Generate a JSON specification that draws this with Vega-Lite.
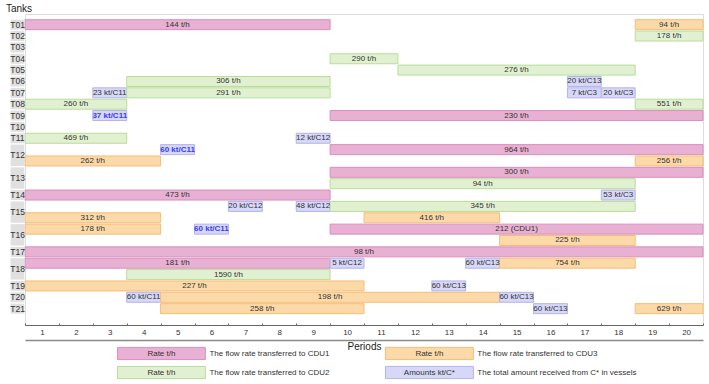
{
  "$schema": "https://vega.github.io/schema/vega-lite/v6.json",
  "padding": {"left": 5, "top": 2, "right": 0, "bottom": 0},
  "config": {"font": "Liberation Sans", "view": {"stroke": "#dddddd"}, "axis": {"grid": false}},
  "datasets": {
    "bars": [
      {"tank": "T01", "slot": 0, "start": 0.5, "end": 9.5, "type": "CDU1", "label": "144 t/h", "flag": "no"},
      {"tank": "T01", "slot": 0, "start": 18.5, "end": 20.5, "type": "CDU3", "label": "94 t/h", "flag": "no"},
      {"tank": "T02", "slot": 1, "start": 18.5, "end": 20.5, "type": "CDU2", "label": "178 t/h", "flag": "no"},
      {"tank": "T04", "slot": 3, "start": 9.5, "end": 11.5, "type": "CDU2", "label": "290 t/h", "flag": "no"},
      {"tank": "T05", "slot": 4, "start": 11.5, "end": 18.5, "type": "CDU2", "label": "276 t/h", "flag": "no"},
      {"tank": "T06", "slot": 5, "start": 3.5, "end": 9.5, "type": "CDU2", "label": "306 t/h", "flag": "no"},
      {"tank": "T06", "slot": 5, "start": 16.5, "end": 17.5, "type": "Vessel", "label": "20 kt/C13", "flag": "no"},
      {"tank": "T07", "slot": 6, "start": 2.5, "end": 3.5, "type": "Vessel", "label": "23 kt/C11", "flag": "no"},
      {"tank": "T07", "slot": 6, "start": 3.5, "end": 9.5, "type": "CDU2", "label": "291 t/h", "flag": "no"},
      {"tank": "T07", "slot": 6, "start": 16.5, "end": 17.5, "type": "Vessel", "label": "7 kt/C3", "flag": "no"},
      {"tank": "T07", "slot": 6, "start": 17.5, "end": 18.5, "type": "Vessel", "label": "20 kt/C3", "flag": "no"},
      {"tank": "T08", "slot": 7, "start": 0.5, "end": 3.5, "type": "CDU2", "label": "260 t/h", "flag": "no"},
      {"tank": "T08", "slot": 7, "start": 18.5, "end": 20.5, "type": "CDU2", "label": "551 t/h", "flag": "no"},
      {"tank": "T09", "slot": 8, "start": 2.5, "end": 3.5, "type": "Vessel", "label": "37 kt/C11", "flag": "yes"},
      {"tank": "T09", "slot": 8, "start": 9.5, "end": 20.5, "type": "CDU1", "label": "230 t/h", "flag": "no"},
      {"tank": "T11", "slot": 10, "start": 0.5, "end": 3.5, "type": "CDU2", "label": "469 t/h", "flag": "no"},
      {"tank": "T11", "slot": 10, "start": 8.5, "end": 9.5, "type": "Vessel", "label": "12 kt/C12", "flag": "no"},
      {"tank": "T12", "slot": 11, "start": 4.5, "end": 5.5, "type": "Vessel", "label": "60 kt/C11", "flag": "yes"},
      {"tank": "T12", "slot": 11, "start": 9.5, "end": 20.5, "type": "CDU1", "label": "964 t/h", "flag": "no"},
      {"tank": "T12", "slot": 12, "start": 0.5, "end": 4.5, "type": "CDU3", "label": "262 t/h", "flag": "no"},
      {"tank": "T12", "slot": 12, "start": 18.5, "end": 20.5, "type": "CDU3", "label": "256 t/h", "flag": "no"},
      {"tank": "T13", "slot": 13, "start": 9.5, "end": 20.5, "type": "CDU1", "label": "300 t/h", "flag": "no"},
      {"tank": "T13", "slot": 14, "start": 9.5, "end": 18.5, "type": "CDU2", "label": "94 t/h", "flag": "no"},
      {"tank": "T14", "slot": 15, "start": 0.5, "end": 9.5, "type": "CDU1", "label": "473 t/h", "flag": "no"},
      {"tank": "T14", "slot": 15, "start": 17.5, "end": 18.5, "type": "Vessel", "label": "53 kt/C3", "flag": "no"},
      {"tank": "T15", "slot": 16, "start": 6.5, "end": 7.5, "type": "Vessel", "label": "20 kt/C12", "flag": "no"},
      {"tank": "T15", "slot": 16, "start": 8.5, "end": 9.5, "type": "Vessel", "label": "48 kt/C12", "flag": "no"},
      {"tank": "T15", "slot": 16, "start": 9.5, "end": 18.5, "type": "CDU2", "label": "345 t/h", "flag": "no"},
      {"tank": "T15", "slot": 17, "start": 0.5, "end": 4.5, "type": "CDU3", "label": "312 t/h", "flag": "no"},
      {"tank": "T15", "slot": 17, "start": 10.5, "end": 14.5, "type": "CDU3", "label": "416 t/h", "flag": "no"},
      {"tank": "T16", "slot": 18, "start": 0.5, "end": 4.5, "type": "CDU3", "label": "178 t/h", "flag": "no"},
      {"tank": "T16", "slot": 18, "start": 5.5, "end": 6.5, "type": "Vessel", "label": "60 kt/C11", "flag": "yes"},
      {"tank": "T16", "slot": 18, "start": 9.5, "end": 20.5, "type": "CDU1", "label": "212 (CDU1)", "flag": "no"},
      {"tank": "T16", "slot": 19, "start": 14.5, "end": 18.5, "type": "CDU3", "label": "225 t/h", "flag": "no"},
      {"tank": "T17", "slot": 20, "start": 0.5, "end": 20.5, "type": "CDU1", "label": "98 t/h", "flag": "no"},
      {"tank": "T18", "slot": 21, "start": 0.5, "end": 9.5, "type": "CDU1", "label": "181 t/h", "flag": "no"},
      {"tank": "T18", "slot": 21, "start": 9.5, "end": 10.5, "type": "Vessel", "label": "5 kt/C12", "flag": "no"},
      {"tank": "T18", "slot": 21, "start": 13.5, "end": 14.5, "type": "Vessel", "label": "60 kt/C13", "flag": "no"},
      {"tank": "T18", "slot": 21, "start": 14.5, "end": 18.5, "type": "CDU3", "label": "754 t/h", "flag": "no"},
      {"tank": "T18", "slot": 22, "start": 3.5, "end": 9.5, "type": "CDU2", "label": "1590 t/h", "flag": "no"},
      {"tank": "T19", "slot": 23, "start": 0.5, "end": 10.5, "type": "CDU3", "label": "227 t/h", "flag": "no"},
      {"tank": "T19", "slot": 23, "start": 12.5, "end": 13.5, "type": "Vessel", "label": "60 kt/C13", "flag": "no"},
      {"tank": "T20", "slot": 24, "start": 3.5, "end": 4.5, "type": "Vessel", "label": "60 kt/C11", "flag": "no"},
      {"tank": "T20", "slot": 24, "start": 4.5, "end": 14.5, "type": "CDU3", "label": "198 t/h", "flag": "no"},
      {"tank": "T20", "slot": 24, "start": 14.5, "end": 15.5, "type": "Vessel", "label": "60 kt/C13", "flag": "no"},
      {"tank": "T21", "slot": 25, "start": 4.5, "end": 10.5, "type": "CDU3", "label": "258 t/h", "flag": "no"},
      {"tank": "T21", "slot": 25, "start": 15.5, "end": 16.5, "type": "Vessel", "label": "60 kt/C13", "flag": "no"},
      {"tank": "T21", "slot": 25, "start": 18.5, "end": 20.5, "type": "CDU3", "label": "629 t/h", "flag": "no"}
    ],
    "tanks": [
      {"tank": "T01", "first": 0, "last": 0},
      {"tank": "T02", "first": 1, "last": 1},
      {"tank": "T03", "first": 2, "last": 2},
      {"tank": "T04", "first": 3, "last": 3},
      {"tank": "T05", "first": 4, "last": 4},
      {"tank": "T06", "first": 5, "last": 5},
      {"tank": "T07", "first": 6, "last": 6},
      {"tank": "T08", "first": 7, "last": 7},
      {"tank": "T09", "first": 8, "last": 8},
      {"tank": "T10", "first": 9, "last": 9},
      {"tank": "T11", "first": 10, "last": 10},
      {"tank": "T12", "first": 11, "last": 12},
      {"tank": "T13", "first": 13, "last": 14},
      {"tank": "T14", "first": 15, "last": 15},
      {"tank": "T15", "first": 16, "last": 17},
      {"tank": "T16", "first": 18, "last": 19},
      {"tank": "T17", "first": 20, "last": 20},
      {"tank": "T18", "first": 21, "last": 22},
      {"tank": "T19", "first": 23, "last": 23},
      {"tank": "T20", "first": 24, "last": 24},
      {"tank": "T21", "first": 25, "last": 25}
    ],
    "legend": [
      {"col": 1, "line": 1, "type": "CDU1", "box": "Rate t/h", "desc": "The flow rate transferred to CDU1"},
      {"col": 1, "line": 2, "type": "CDU2", "box": "Rate t/h", "desc": "The flow rate transferred to CDU2"},
      {"col": 2, "line": 1, "type": "CDU3", "box": "Rate t/h", "desc": "The flow rate transferred to CDU3"},
      {"col": 2, "line": 2, "type": "Vessel", "box": "Amounts kt/C*", "desc": "The total amount received from C* in vessels"}
    ]
  },
  "bounds": "flush",
  "spacing": 19,
  "vconcat": [
    {
      "width": 678,
      "height": 311,
      "resolve": {"axis": {"x": "independent"}},
      "layer": [
        {
          "data": {"name": "bars"},
          "mark": {"type": "bar", "height": 10, "strokeWidth": 1},
          "encoding": {
            "x": {"field": "start", "type": "quantitative",
              "scale": {"domain": [0.5, 20.5], "nice": false, "zero": false},
              "axis": {"orient": "bottom", "values": [0.5,1.5,2.5,3.5,4.5,5.5,6.5,7.5,8.5,9.5,10.5,11.5,12.5,13.5,14.5,15.5,16.5,17.5,18.5,19.5,20.5],
                "tickSize": -2, "labelExpr": "datum.value < 20 ? format(datum.value + 0.5, 'd') : ''", "labelOffset": 17,
                "labelFontSize": 8, "labelColor": "#333333", "labelPadding": 5, "labelFlush": false, "labelOverlap": false,
                "domainColor": "#666666", "tickColor": "#666666", "title": null, "grid": false}},
            "x2": {"field": "end"},
            "y": {"field": "slot", "type": "quantitative",
              "scale": {"domain": [-0.5, 26], "reverse": true, "nice": false, "zero": false},
              "axis": {"title": "Tanks", "titleAngle": 0, "titleAlign": "left", "titleBaseline": "alphabetic", "titleX": -19.5, "titleY": -3,
                "titleFontSize": 10, "titleFontWeight": "normal", "titleColor": "#222222", "labels": false, "ticks": false, "domain": false, "grid": false}},
            "fill": {"field": "type", "type": "nominal", "scale": {"domain": ["CDU1", "CDU2", "CDU3", "Vessel"], "range": ["#e8b0d2", "#e1f0d0", "#fcd9a9", "#d7d7f7"]}, "legend": null},
            "stroke": {"field": "type", "type": "nominal", "scale": {"domain": ["CDU1", "CDU2", "CDU3", "Vessel"], "range": ["#d98fbd", "#b9dd98", "#f7bd75", "#b3b3ec"]}, "legend": null}
          }
        },
        {
          "data": {"name": "bars"},
          "transform": [{"filter": "datum.flag == 'no'"}, {"calculate": "(datum.start + datum.end) / 2", "as": "mid"}],
          "mark": {"type": "text", "fontSize": 8, "color": "#333333", "align": "center", "baseline": "middle"},
          "encoding": {
            "x": {"field": "mid", "type": "quantitative",
              "axis": {"orient": "bottom", "offset": 15, "values": [], "ticks": false, "labels": false, "domainColor": "#8a8a8a", "domainWidth": 1.5,
                "title": "Periods", "titleFontSize": 10, "titleFontWeight": "normal", "titlePadding": 1, "titleColor": "#222222", "grid": false}},
            "y": {"field": "slot", "type": "quantitative", "axis": {"title": "Tanks", "titleAngle": 0, "titleAlign": "left", "titleBaseline": "alphabetic", "titleX": -19.5, "titleY": -3,
                "titleFontSize": 10, "titleFontWeight": "normal", "titleColor": "#222222", "labels": false, "ticks": false, "domain": false, "grid": false}},
            "text": {"field": "label"}
          }
        },
        {
          "data": {"name": "bars"},
          "transform": [{"filter": "datum.flag == 'yes'"}, {"calculate": "(datum.start + datum.end) / 2", "as": "mid"}],
          "mark": {"type": "text", "fontSize": 8, "fontWeight": "bold", "color": "#3b3bff", "align": "center", "baseline": "middle"},
          "encoding": {
            "x": {"field": "mid", "type": "quantitative", "axis": null},
            "y": {"field": "slot", "type": "quantitative", "axis": {"title": "Tanks", "titleAngle": 0, "titleAlign": "left", "titleBaseline": "alphabetic", "titleX": -19.5, "titleY": -3,
                "titleFontSize": 10, "titleFontWeight": "normal", "titleColor": "#222222", "labels": false, "ticks": false, "domain": false, "grid": false}},
            "text": {"field": "label"}
          }
        },
        {
          "data": {"name": "tanks"},
          "mark": {"type": "rect", "fill": "#e0e0e0", "yOffset": -5, "y2Offset": 5},
          "encoding": {
            "x": {"datum": 0.075, "type": "quantitative", "axis": null},
            "x2": {"datum": 0.48},
            "y": {"field": "first", "type": "quantitative", "axis": {"title": "Tanks", "titleAngle": 0, "titleAlign": "left", "titleBaseline": "alphabetic", "titleX": -19.5, "titleY": -3,
                "titleFontSize": 10, "titleFontWeight": "normal", "titleColor": "#222222", "labels": false, "ticks": false, "domain": false, "grid": false}},
            "y2": {"field": "last"}
          }
        },
        {
          "data": {"name": "tanks"},
          "transform": [{"calculate": "(datum.first + datum.last) / 2", "as": "mid"}],
          "mark": {"type": "text", "fontSize": 8.5, "color": "#333333", "align": "center", "baseline": "middle"},
          "encoding": {
            "x": {"datum": 0.28, "type": "quantitative", "axis": null},
            "y": {"field": "mid", "type": "quantitative", "axis": {"title": "Tanks", "titleAngle": 0, "titleAlign": "left", "titleBaseline": "alphabetic", "titleX": -19.5, "titleY": -3,
                "titleFontSize": 10, "titleFontWeight": "normal", "titleColor": "#222222", "labels": false, "ticks": false, "domain": false, "grid": false}},
            "text": {"field": "tank"}
          }
        }
      ]
    },
    {
      "data": {"name": "legend"},
      "width": 678,
      "height": 38,
      "view": {"stroke": null},
      "layer": [
        {
          "mark": {"type": "rect", "strokeWidth": 1},
          "encoding": {
            "x": {"field": "col", "type": "ordinal", "bandPosition": 0, "scale": {"type": "band", "paddingInner": 0, "paddingOuter": 0.265, "align": 0.651}, "axis": null},
            "x2": {"field": "col", "bandPosition": 0.328},
            "y": {"field": "line", "type": "ordinal", "bandPosition": 0.18, "scale": {"type": "band", "paddingInner": 0, "paddingOuter": 0}, "axis": null},
            "y2": {"field": "line", "bandPosition": 0.82},
            "fill": {"field": "type", "type": "nominal", "scale": {"domain": ["CDU1", "CDU2", "CDU3", "Vessel"], "range": ["#e8b0d2", "#e1f0d0", "#fcd9a9", "#d7d7f7"]}, "legend": null},
            "stroke": {"field": "type", "type": "nominal", "scale": {"domain": ["CDU1", "CDU2", "CDU3", "Vessel"], "range": ["#d98fbd", "#b9dd98", "#f7bd75", "#b3b3ec"]}, "legend": null}
          }
        },
        {
          "mark": {"type": "text", "fontSize": 8, "color": "#333333", "align": "center", "baseline": "middle"},
          "encoding": {
            "x": {"field": "col", "type": "ordinal", "bandPosition": 0.164, "axis": null},
            "y": {"field": "line", "type": "ordinal", "bandPosition": 0.5, "axis": null},
            "text": {"field": "box"}
          }
        },
        {
          "mark": {"type": "text", "fontSize": 8, "color": "#333333", "align": "left", "baseline": "middle"},
          "encoding": {
            "x": {"field": "col", "type": "ordinal", "bandPosition": 0.343, "axis": null},
            "y": {"field": "line", "type": "ordinal", "bandPosition": 0.5, "axis": null},
            "text": {"field": "desc"}
          }
        }
      ]
    }
  ]
}
